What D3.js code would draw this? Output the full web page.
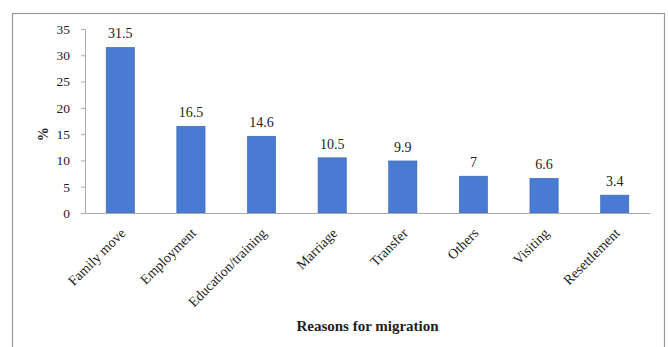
<!DOCTYPE html>
<html>
<head>
<meta charset="utf-8">
<script src="https://cdn.jsdelivr.net/npm/d3@7"></script>
<style>
  body { margin: 0; background: #fff; }
  text { font-family: "Liberation Serif", "DejaVu Serif", serif; fill: #222; }
</style>
</head>
<body>
<div id="chart"></div>
<script>
var categories = ["Family move", "Employment", "Education/training", "Marriage", "Transfer", "Others", "Visiting", "Resettlement"];
var values = [31.5, 16.5, 14.6, 10.5, 9.9, 7, 6.6, 3.4];
var valueLabels = ["31.5", "16.5", "14.6", "10.5", "9.9", "7", "6.6", "3.4"];
var yTicks = [0, 5, 10, 15, 20, 25, 30, 35];

var width = 668, height = 347;
var margin = {left: 85, right: 18, top: 29, bottom: 134};

var svg = d3.select("#chart").append("svg")
  .attr("width", width)
  .attr("height", height);

// outer frame
svg.append("rect")
  .attr("x", 12.5).attr("y", 13.5)
  .attr("width", 652).attr("height", 345)
  .attr("fill", "none")
  .attr("stroke", "#9a9a9a")
  .attr("stroke-width", 1.2);

var x = d3.scaleBand()
  .domain(categories)
  .range([margin.left, width - margin.right])
  .paddingInner(0.6)
  .paddingOuter(0.3);

var y = d3.scaleLinear()
  .domain([0, 35])
  .range([height - margin.bottom, margin.top]);

// y axis
var yAxis = svg.append("g")
  .attr("transform", "translate(" + margin.left + ",0)")
  .call(d3.axisLeft(y).tickValues(yTicks).tickSize(4).tickPadding(11));
yAxis.selectAll("text").style("font-size", "13.5px");
yAxis.selectAll("line, path").attr("stroke", "#aaa");

// bars
svg.selectAll(".bar")
  .data(values)
  .enter().append("rect")
  .attr("class", "bar")
  .attr("x", function(d, i) { return x(categories[i]); })
  .attr("y", function(d) { return y(d); })
  .attr("width", x.bandwidth())
  .attr("height", function(d) { return y(0) - y(d); })
  .attr("fill", "#4a7bd2")
  .attr("stroke", "#3a66b5")
  .attr("stroke-width", 0.6);

// x axis
var xAxis = svg.append("g")
  .attr("transform", "translate(0," + y(0) + ")")
  .call(d3.axisBottom(x).tickSize(0).tickSizeOuter(0).tickPadding(0));
xAxis.select(".domain").attr("stroke", "#aaa");
xAxis.selectAll("text")
  .style("font-size", "14px")
  .attr("text-anchor", "end")
  .attr("dy", 0)
  .attr("transform", "translate(6,21) rotate(-45)");

// value labels
svg.selectAll(".val")
  .data(values)
  .enter().append("text")
  .attr("class", "val")
  .attr("x", function(d, i) { return x(categories[i]) + x.bandwidth() / 2; })
  .attr("y", function(d) { return y(d) - 9; })
  .attr("text-anchor", "middle")
  .style("font-size", "14px")
  .text(function(d, i) { return valueLabels[i]; });

// axis titles
svg.append("text")
  .attr("transform", "translate(43," + y(15) + ") rotate(-90)")
  .attr("text-anchor", "middle")
  .attr("dy", "0.35em")
  .style("font-size", "14px")
  .style("font-weight", "bold")
  .text("%");

svg.append("text")
  .attr("x", (margin.left + width - margin.right) / 2)
  .attr("y", 331)
  .attr("text-anchor", "middle")
  .style("font-size", "15px")
  .style("font-weight", "bold")
  .text("Reasons for migration");
</script>
</body>
</html>
